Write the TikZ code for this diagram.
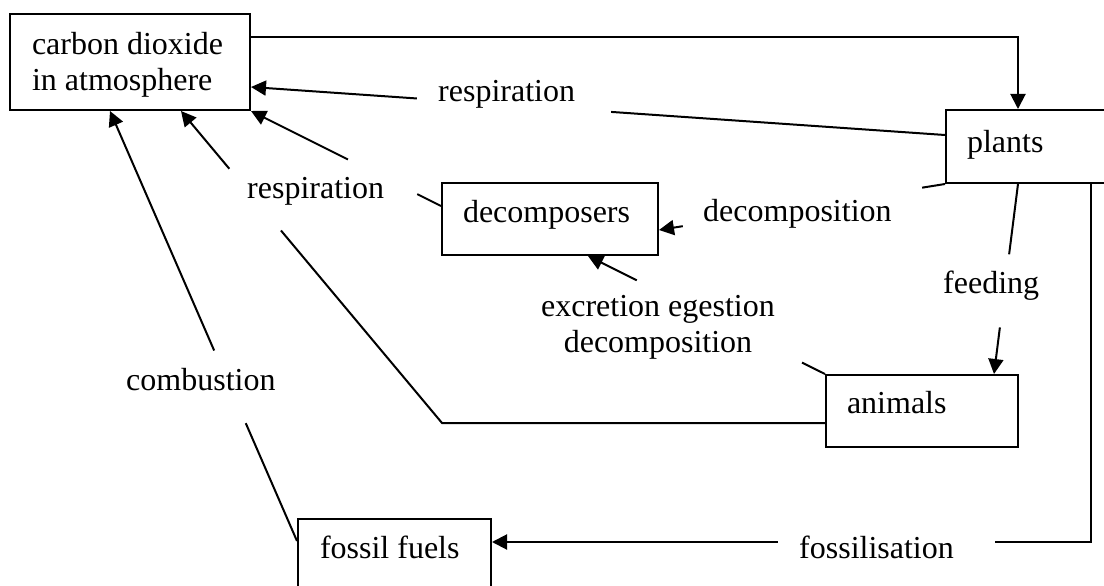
\documentclass[tikz,border=0pt]{standalone}
\usepackage{fontspec}
\setmainfont{Liberation Serif}
\usetikzlibrary{arrows.meta,calc}
\begin{document}
\begin{tikzpicture}[x=1pt,y=-1pt,
  every node/.style={font=\fontsize{32}{36}\selectfont},
  box/.style={draw, line width=2pt, rectangle, inner ysep=0pt, align=flush left, text height=22pt},
  lbl/.style={inner sep=0pt, anchor=base west},
  conn/.style={line width=2pt},
  arr/.style={line width=2pt, -{Triangle[length=15pt,width=15pt]}}]
\useasboundingbox (0,0) rectangle (1104,586);

% boxes
\node[box, inner xsep=22pt, text width=196pt, minimum height=96pt, text depth=36pt] (co2) at (130,62) {carbon dioxide\\in atmosphere};
\node[box, inner xsep=21pt, text width=122pt, minimum height=73pt, text depth=11pt] (plants) at (1028,146.5) {plants};
\node[box, inner xsep=21pt, text width=174pt, minimum height=72pt, text depth=16pt] (dec) at (550,219) {decomposers};
\node[box, inner xsep=21pt, text width=150pt, minimum height=72pt, text depth=18pt] (anim) at (922,411) {animals};
\node[box, inner xsep=22pt, text width=149pt, minimum height=72pt, text depth=16pt] (fossil) at (394.5,555) {fossil fuels};

% labels
\node[lbl] (lr1) at (438,102) {respiration};
\node[lbl] (lr2) at (247,198) {respiration};
\node[lbl] (ldc) at (703,221) {decomposition};
\node[lbl] (lfd) at (943,293) {feeding};
\node[lbl] (lcb) at (126,390) {combustion};
\node[lbl] (lfs) at (799,558) {fossilisation};
\node[inner sep=0pt, align=center] (lex) at (658,327.5) {excretion egestion\\decomposition};

% photosynthesis: co2 -> plants
\coordinate (p1) at ([yshift=-24pt]co2.north east);
\coordinate (p2) at ([xshift=-10pt]plants.north);
\draw[arr] (p1) -| (p2);

% respiration plants -> co2
\coordinate (r1s) at ([yshift=11.5pt]plants.west);
\coordinate (r1e) at ([yshift=-25pt]co2.east);
\draw[conn] (r1s) -- ($(r1s)!0.481!(r1e)$);
\draw[arr] ($(r1s)!0.761!(r1e)$) -- (r1e);

% respiration decomposers -> co2
\coordinate (r2s) at ([yshift=13pt]dec.west);
\coordinate (r2e) at (co2.south east);
\draw[conn] (r2s) -- ($(r2s)!0.125!(r2e)$);
\draw[arr] ($(r2s)!0.49!(r2e)$) -- (r2e);

% respiration animals -> co2
\coordinate (r3s) at ([yshift=-12pt]anim.west);
\coordinate (r3c) at (442,423);
\coordinate (r3e) at ([xshift=51pt]co2.south);
\draw[conn] (r3s) -- (r3c) -- ($(r3c)!0.617!(r3e)$);
\draw[arr] ($(r3c)!0.815!(r3e)$) -- (r3e);

% decomposition plants -> decomposers
\coordinate (d1s) at (plants.south west);
\coordinate (d1e) at ([yshift=-11pt]dec.east);
\draw[conn] (d1s) -- ($(d1s)!0.08!(d1e)$);
\draw[arr] ($(d1s)!0.917!(d1e)$) -- (d1e);

% excretion animals -> decomposers
\coordinate (e1s) at (anim.north west);
\coordinate (e1e) at ([xshift=38pt]dec.south);
\draw[conn] (e1s) -- ($(e1s)!0.097!(e1e)$);
\draw[arr] ($(e1s)!0.794!(e1e)$) -- (e1e);

% feeding plants -> animals
\coordinate (f1s) at ([xshift=-10pt]plants.south);
\coordinate (f1e) at ([xshift=72pt]anim.north);
\draw[conn] (f1s) -- ($(f1s)!0.37!(f1e)$);
\draw[arr] ($(f1s)!0.755!(f1e)$) -- (f1e);

% fossilisation plants -> fossil fuels
\coordinate (g1s) at ([xshift=63pt]plants.south);
\coordinate (g1e) at ([yshift=13pt]fossil.east);
\coordinate (g1c) at (g1s |- g1e);
\draw[conn] (g1s) -- (g1c) -- ($(g1c)!0.16!(g1e)$);
\draw[arr] ($(g1c)!0.523!(g1e)$) -- (g1e);

% combustion fossil fuels -> co2
\coordinate (c1s) at ([yshift=14pt]fossil.west);
\coordinate (c1e) at ([xshift=-20pt]co2.south);
\draw[conn] (c1s) -- ($(c1s)!0.274!(c1e)$);
\draw[arr] ($(c1s)!0.443!(c1e)$) -- (c1e);
\end{tikzpicture}
\end{document}
